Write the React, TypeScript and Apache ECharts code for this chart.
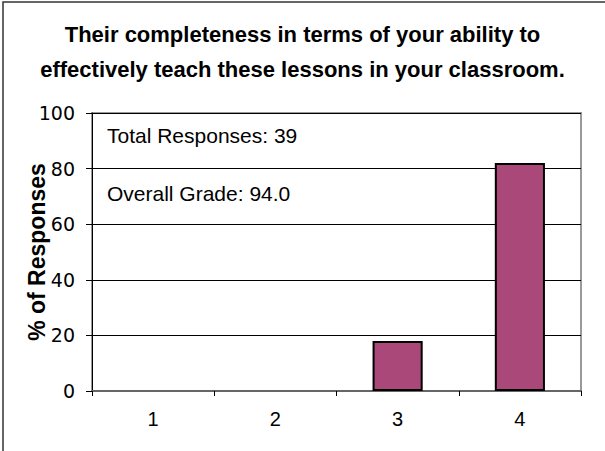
import React, { useEffect, useRef } from "react";
import * as echarts from "echarts";

const categories = ["1", "2", "3", "4"];
const percentResponses = [0, 0, 17.95, 82.05];
const yTicks = { min: 0, max: 100, interval: 20 };
const titleLines = [
  "Their completeness in terms of your ability to",
  "effectively teach these lessons in your classroom.",
];
const notes = ["Total Responses: 39", "Overall Grade: 94.0"];
const yAxisName = "% of Responses";

const FONT = "'Liberation Sans', Arial, sans-serif";
const WIDE = "DejaVu Sans";

export default function App() {
  const ref = useRef<HTMLDivElement>(null);
  useEffect(() => {
    if (!ref.current) return;
    const chart = echarts.init(ref.current, undefined, { renderer: "svg" });
    chart.setOption({
      animation: false,
      backgroundColor: "#fff",
      textStyle: { fontFamily: FONT },
      title: {
        text: titleLines.join("\n"),
        left: "center",
        top: 12,
        textStyle: {
          fontFamily: FONT,
          fontWeight: "bold",
          fontSize: 22,
          lineHeight: 35,
          color: "#000",
        },
      },
      graphic: [
        {
          type: "polyline",
          shape: { points: [[3, 451], [3, 2], [605, 2]] },
          style: { stroke: "#333", lineWidth: 1.5, fill: "none" },
        },
        {
          type: "text",
          left: 107,
          top: 125,
          style: { text: notes[0], font: `21px ${FONT}`, fill: "#000" },
        },
        {
          type: "text",
          left: 107,
          top: 183,
          style: { text: notes[1], font: `21px ${FONT}`, fill: "#000" },
        },
      ],
      grid: {
        left: 92,
        right: 24,
        top: 113,
        bottom: 60,
        show: true,
        borderColor: "#999",
        borderWidth: 2,
        backgroundColor: "#fff",
      },
      xAxis: {
        type: "category",
        data: categories,
        boundaryGap: true,
        axisLine: { lineStyle: { color: "#666", width: 2 } },
        axisTick: { show: true, length: 5, lineStyle: { color: "#000" } },
        axisLabel: { fontSize: 20, color: "#000", margin: 18, fontFamily: FONT },
      },
      yAxis: {
        type: "value",
        min: yTicks.min,
        max: yTicks.max,
        interval: yTicks.interval,
        name: yAxisName,
        nameLocation: "middle",
        nameGap: 44,
        nameMoveOverlap: false,
        nameTextStyle: { fontSize: 23, fontWeight: "bold", color: "#000", fontFamily: FONT },
        axisLine: { show: true, lineStyle: { color: "#000", width: 1 } },
        axisTick: { show: true, length: 6, lineStyle: { color: "#000" } },
        axisLabel: { fontSize: 19, color: "#000", margin: 17, fontFamily: WIDE },
        splitLine: { show: true, lineStyle: { color: "#000", width: 1 } },
      },
      series: [
        {
          type: "bar",
          data: percentResponses.map((v) =>
            v === 0 ? { value: v, itemStyle: { borderWidth: 0 } } : v
          ),
          barWidth: "41%",
          itemStyle: { color: "#AA4979", borderColor: "#000", borderWidth: 2 },
        },
      ],
    });
    return () => chart.dispose();
  }, []);
  return <div ref={ref} style={{ width: 605, height: 451, position: "absolute", left: 0, top: 0 }} />;
}
